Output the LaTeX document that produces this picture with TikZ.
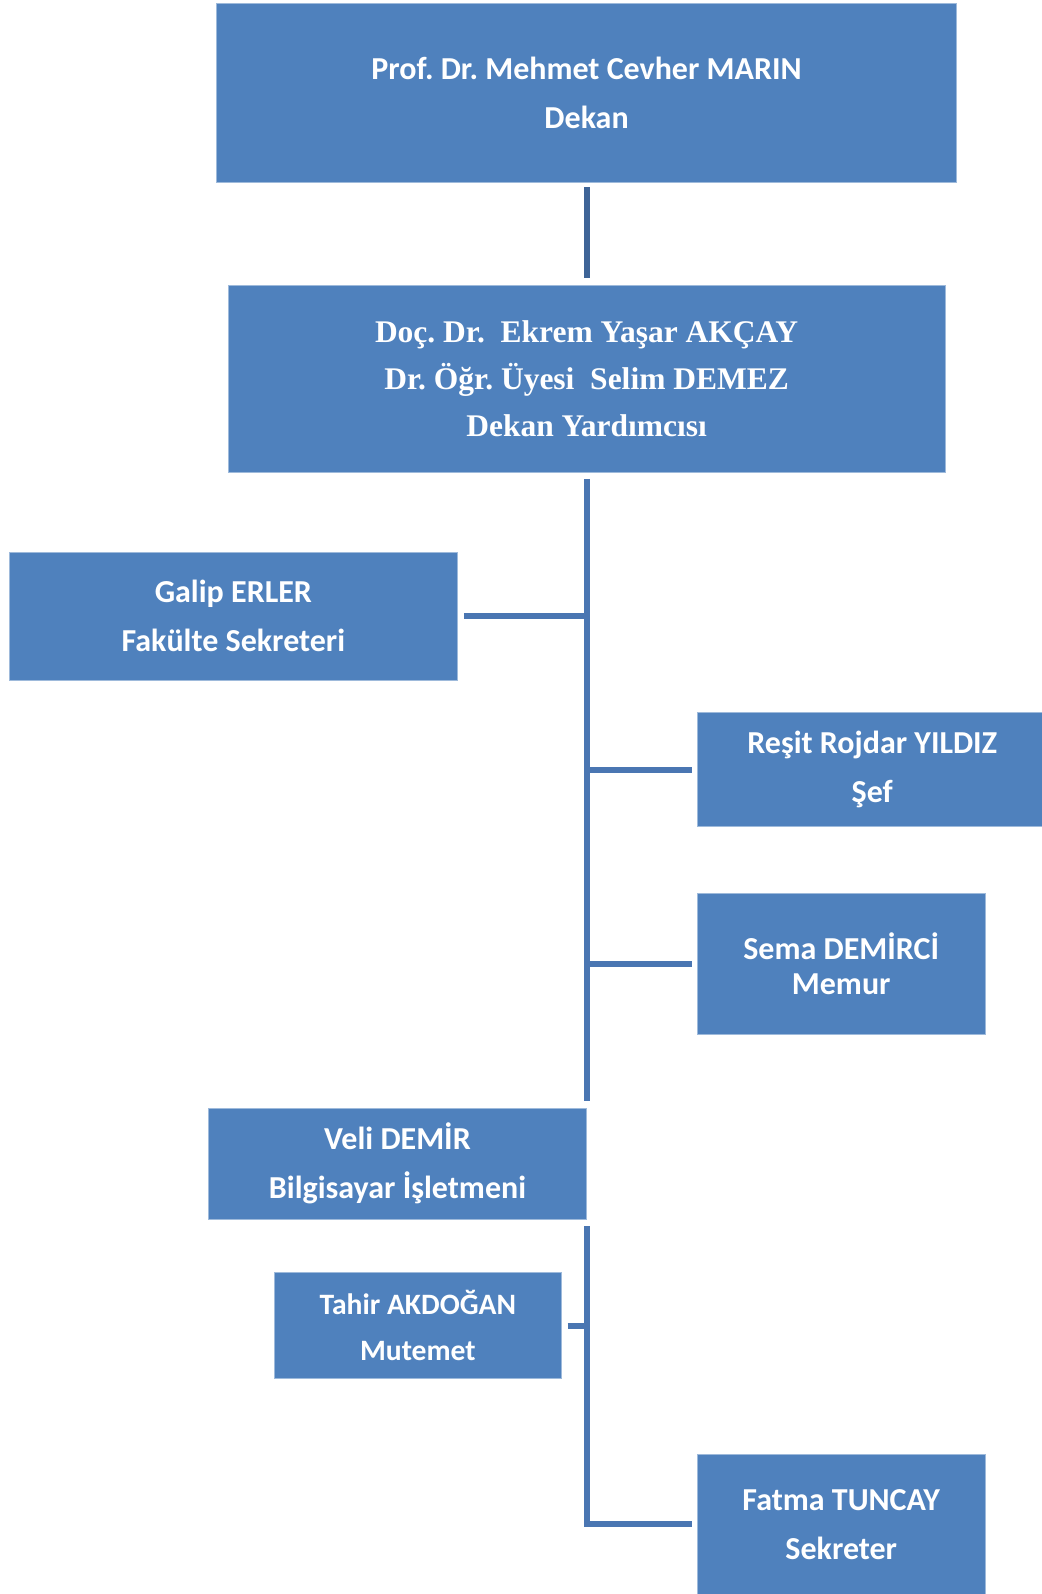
\documentclass[tikz,border=0pt]{standalone}
\usepackage{fontspec}
\setmainfont{Carlito}
\newfontfamily\serifbold{Liberation Serif}
\usetikzlibrary{positioning}
\definecolor{boxblue}{HTML}{4F81BD}
\definecolor{linkblue}{HTML}{4A76B2}
\definecolor{darklink}{HTML}{3E6497}
\frenchspacing

\begin{document}
\begin{tikzpicture}[
    x=1pt, y=-1pt,
    unit/.style={rectangle, draw=boxblue!55!white, line width=0.8pt, fill=boxblue, text=white, align=center, inner sep=0pt, font=\fontsize{32}{48.8}\selectfont\bfseries},
    link/.style={draw=linkblue, line width=6pt},
    node distance=102.6pt
]
\useasboundingbox (0,0) rectangle (1041,1594);

% Define nodes
\node[unit, minimum width=740pt, minimum height=179pt] (dekan) at (586.6,92.5) {Prof. Dr. Mehmet Cevher MARIN\\Dekan};
\node[unit, minimum width=716.7pt, minimum height=187pt, below=of dekan, font=\serifbold\fontsize{31.5}{46.8}\selectfont\bfseries] (yard) {Doç. Dr.\ \ Ekrem Yaşar AKÇAY\\Dr. Öğr. Üyesi\ \ Selim DEMEZ\\Dekan Yardımcısı};
\node[unit, minimum width=448.3pt, minimum height=128.1pt] (galip) at (233.35,616) {Galip ERLER\\Fakülte Sekreteri};
\node[unit, minimum width=349.6pt, minimum height=113.8pt] (resit) at (872.2,769.6) {Reşit Rojdar YILDIZ\\Şef};
\node[unit, minimum width=287.7pt, minimum height=140.3pt, font=\fontsize{32}{35.6}\selectfont\bfseries] (sema) at (841.25,963.75) {Sema DEMİRCİ\\Memur};
\node[unit, minimum width=378.2pt, minimum height=111pt] (veli) at (397.5,1163.5) {Veli DEMİR\\Bilgisayar İşletmeni};
\node[unit, minimum width=286.7pt, minimum height=105.7pt, font=\fontsize{29.6}{45.8}\selectfont\bfseries] (tahir) at (417.85,1325.65) {Tahir AKDOĞAN\\Mutemet};
\node[unit, minimum width=287.7pt, minimum height=139.2pt] (fatma) at (841.25,1524.4) {Fatma TUNCAY\\Sekreter};

% Connect nodes
\draw[link, draw=darklink, shorten <=5pt, shorten >=7pt] (dekan) -- (yard);
\draw[link, shorten <=6pt, shorten >=7pt] (yard) -- (yard |- veli.north);
\draw[link, shorten <=6pt] (galip) -- (galip -| yard);
\draw[link, shorten >=5pt] (resit -| yard) -- (resit);
\draw[link, shorten >=5pt] (sema -| yard) -- (sema);
\draw[link, shorten <=7pt, shorten >=5pt] (veli.south east) |- (fatma);
\draw[link, shorten <=6pt] (tahir) -- (tahir -| veli.east);

\end{tikzpicture}
\end{document}
